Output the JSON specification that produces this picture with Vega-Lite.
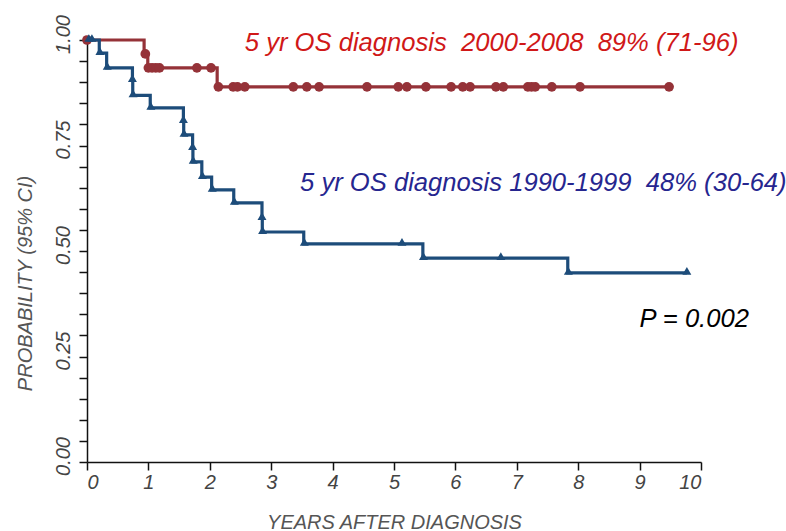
{
  "$schema": "https://vega.github.io/schema/vega-lite/v6.json",
  "width": 614,
  "height": 422,
  "autosize": {"type": "none"},
  "padding": {"left": 87, "top": 40, "right": 85, "bottom": 69},
  "background": "white",
  "config": {
    "view": {"stroke": null},
    "font": "Liberation Sans",
    "axis": {
      "grid": false,
      "domainColor": "#111111",
      "domainWidth": 1.5,
      "tickColor": "#111111",
      "tickWidth": 1.5,
      "tickSize": 8,
      "labelFont": "Liberation Sans",
      "labelFontStyle": "italic",
      "labelFontSize": 20,
      "labelColor": "#444444",
      "titleFont": "Liberation Sans",
      "titleFontStyle": "italic",
      "titleFontWeight": "normal",
      "titleFontSize": 20,
      "titleColor": "#555555"
    }
  },
  "datasets": {
    "steps": [
      {"group": "2000-2008", "t": 0, "s": 1.0},
      {"group": "2000-2008", "t": 0.93, "s": 0.967},
      {"group": "2000-2008", "t": 0.99, "s": 0.934},
      {"group": "2000-2008", "t": 2.12, "s": 0.889},
      {"group": "2000-2008", "t": 9.48, "s": 0.889},
      {"group": "1990-1999", "t": 0, "s": 1.0},
      {"group": "1990-1999", "t": 0.2, "s": 0.969},
      {"group": "1990-1999", "t": 0.32, "s": 0.934},
      {"group": "1990-1999", "t": 0.74, "s": 0.905},
      {"group": "1990-1999", "t": 0.745, "s": 0.869},
      {"group": "1990-1999", "t": 1.03, "s": 0.839},
      {"group": "1990-1999", "t": 1.57, "s": 0.808},
      {"group": "1990-1999", "t": 1.575, "s": 0.775},
      {"group": "1990-1999", "t": 1.72, "s": 0.744},
      {"group": "1990-1999", "t": 1.725, "s": 0.711},
      {"group": "1990-1999", "t": 1.87, "s": 0.675},
      {"group": "1990-1999", "t": 2.03, "s": 0.645},
      {"group": "1990-1999", "t": 2.39, "s": 0.614},
      {"group": "1990-1999", "t": 2.85, "s": 0.578},
      {"group": "1990-1999", "t": 2.855, "s": 0.545},
      {"group": "1990-1999", "t": 3.53, "s": 0.517},
      {"group": "1990-1999", "t": 5.47, "s": 0.483},
      {"group": "1990-1999", "t": 7.83, "s": 0.448},
      {"group": "1990-1999", "t": 9.77, "s": 0.448}
    ],
    "marks": [
      {"group": "2000-2008", "t": 0.0, "s": 1.0},
      {"group": "2000-2008", "t": 0.95, "s": 0.967},
      {"group": "2000-2008", "t": 1.0, "s": 0.934},
      {"group": "2000-2008", "t": 1.06, "s": 0.934},
      {"group": "2000-2008", "t": 1.12, "s": 0.934},
      {"group": "2000-2008", "t": 1.18, "s": 0.934},
      {"group": "2000-2008", "t": 1.79, "s": 0.934},
      {"group": "2000-2008", "t": 2.02, "s": 0.934},
      {"group": "2000-2008", "t": 2.14, "s": 0.889},
      {"group": "2000-2008", "t": 2.38, "s": 0.889},
      {"group": "2000-2008", "t": 2.45, "s": 0.889},
      {"group": "2000-2008", "t": 2.57, "s": 0.889},
      {"group": "2000-2008", "t": 3.36, "s": 0.889},
      {"group": "2000-2008", "t": 3.58, "s": 0.889},
      {"group": "2000-2008", "t": 3.78, "s": 0.889},
      {"group": "2000-2008", "t": 4.56, "s": 0.889},
      {"group": "2000-2008", "t": 5.07, "s": 0.889},
      {"group": "2000-2008", "t": 5.21, "s": 0.889},
      {"group": "2000-2008", "t": 5.52, "s": 0.889},
      {"group": "2000-2008", "t": 5.93, "s": 0.889},
      {"group": "2000-2008", "t": 6.12, "s": 0.889},
      {"group": "2000-2008", "t": 6.24, "s": 0.889},
      {"group": "2000-2008", "t": 6.66, "s": 0.889},
      {"group": "2000-2008", "t": 6.78, "s": 0.889},
      {"group": "2000-2008", "t": 7.18, "s": 0.889},
      {"group": "2000-2008", "t": 7.24, "s": 0.889},
      {"group": "2000-2008", "t": 7.30, "s": 0.889},
      {"group": "2000-2008", "t": 7.57, "s": 0.889},
      {"group": "2000-2008", "t": 8.03, "s": 0.889},
      {"group": "2000-2008", "t": 9.48, "s": 0.889},
      {"group": "1990-1999", "t": 0.03, "s": 1.0},
      {"group": "1990-1999", "t": 0.08, "s": 1.0},
      {"group": "1990-1999", "t": 0.21, "s": 0.969},
      {"group": "1990-1999", "t": 0.33, "s": 0.934},
      {"group": "1990-1999", "t": 0.74, "s": 0.905},
      {"group": "1990-1999", "t": 0.75, "s": 0.869},
      {"group": "1990-1999", "t": 1.04, "s": 0.839},
      {"group": "1990-1999", "t": 1.57, "s": 0.808},
      {"group": "1990-1999", "t": 1.58, "s": 0.775},
      {"group": "1990-1999", "t": 1.72, "s": 0.744},
      {"group": "1990-1999", "t": 1.73, "s": 0.711},
      {"group": "1990-1999", "t": 1.88, "s": 0.675},
      {"group": "1990-1999", "t": 2.04, "s": 0.645},
      {"group": "1990-1999", "t": 2.4, "s": 0.614},
      {"group": "1990-1999", "t": 2.85, "s": 0.578},
      {"group": "1990-1999", "t": 2.86, "s": 0.545},
      {"group": "1990-1999", "t": 3.54, "s": 0.517},
      {"group": "1990-1999", "t": 5.13, "s": 0.517},
      {"group": "1990-1999", "t": 5.48, "s": 0.483},
      {"group": "1990-1999", "t": 6.74, "s": 0.483},
      {"group": "1990-1999", "t": 7.84, "s": 0.448},
      {"group": "1990-1999", "t": 9.77, "s": 0.448}
    ],
    "notes": [
      {"kind": "red", "t": 2.57, "s": 0.993, "label": "5 yr OS diagnosis\u00a0\u00a02000-2008\u00a0\u00a089% (71-96)"},
      {"kind": "blue", "t": 3.47, "s": 0.66, "label": "5 yr OS diagnosis 1990-1999\u00a0\u00a048% (30-64)"},
      {"kind": "black", "t": 9.0, "s": 0.34, "label": "P = 0.002"}
    ]
  },
  "encoding": {
    "x": {
      "field": "t", "type": "quantitative",
      "scale": {"domain": [0, 10], "nice": false, "zero": false},
      "axis": {
        "title": "YEARS AFTER DIAGNOSIS",
        "values": [0,1,2,3,4,5,6,7,8,9,10],
        "format": "d",
        "labelPadding": 2,
        "titlePadding": 20
      }
    },
    "y": {
      "field": "s", "type": "quantitative",
      "scale": {"domain": [0, 1], "nice": false, "zero": false},
      "axis": {
        "title": "PROBABILITY (95% CI)",
        "values": [0,0.05,0.1,0.15,0.2,0.25,0.3,0.35,0.4,0.45,0.5,0.55,0.6,0.65,0.7,0.75,0.8,0.85,0.9,0.95,1],
        "format": ".2f",
        "labelExpr": "round(datum.value*100) % 25 == 0 ? datum.label : ''",
        "labelAngle": -90,
        "labelAlign": "center",
        "labelBaseline": "bottom",
        "labelOffset": -6,
        "labelPadding": 6,
        "titlePadding": 18,
        "titleY": 243
      }
    }
  },
  "layer": [
    {
      "data": {"name": "steps"},
      "mark": {"type": "line", "interpolate": "step-after", "strokeWidth": 3.2},
      "encoding": {
        "color": {
          "field": "group", "type": "nominal",
          "scale": {"domain": ["2000-2008", "1990-1999"], "range": ["#953238", "#1d4c7a"]},
          "legend": null
        },
        "detail": {"field": "group"}
      }
    },
    {
      "data": {"name": "marks"},
      "transform": [{"filter": "datum.group == '2000-2008'"}],
      "mark": {"type": "point", "shape": "circle", "filled": true, "size": 95, "opacity": 1, "color": "#953238"}
    },
    {
      "data": {"name": "marks"},
      "transform": [{"filter": "datum.group == '1990-1999'"}],
      "mark": {"type": "point", "shape": "triangle-up", "filled": true, "size": 80, "opacity": 1, "color": "#1d4c7a", "yOffset": -2}
    },
    {
      "data": {"name": "notes"},
      "transform": [{"filter": "datum.kind == 'red'"}],
      "mark": {"type": "text", "align": "left", "baseline": "middle", "fontSize": 25.6, "fontStyle": "italic", "color": "#d01818"},
      "encoding": {"text": {"field": "label"}}
    },
    {
      "data": {"name": "notes"},
      "transform": [{"filter": "datum.kind == 'blue'"}],
      "mark": {"type": "text", "align": "left", "baseline": "middle", "fontSize": 25.6, "fontStyle": "italic", "color": "#26268f"},
      "encoding": {"text": {"field": "label"}}
    },
    {
      "data": {"name": "notes"},
      "transform": [{"filter": "datum.kind == 'black'"}],
      "mark": {"type": "text", "align": "left", "baseline": "middle", "fontSize": 25.6, "fontStyle": "italic", "color": "#000000"},
      "encoding": {"text": {"field": "label"}}
    }
  ]
}
